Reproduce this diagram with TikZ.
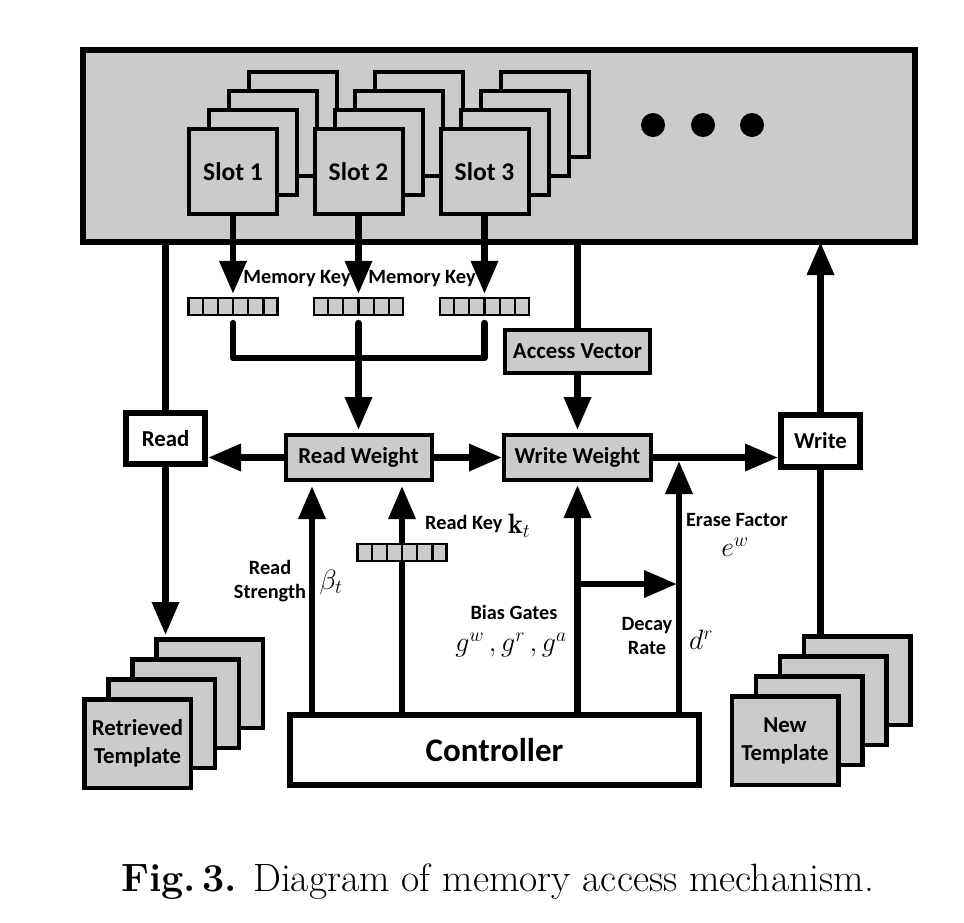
\RequirePackage{fix-cm}
\documentclass[tikz,border=0pt]{standalone}
\usepackage{fontspec}
\newfontfamily\carl{Carlito}
\usetikzlibrary{arrows.meta,calc}
\definecolor{boxgray}{HTML}{CBCBCB}
\tikzset{
 conn/.style={line width=6.5pt, line cap=round, line join=round},
 arr/.style={-{Triangle[length=33pt,width=26pt]}},
 lbl/.style={font=\carl\bfseries\fontsize{20.3}{24}\selectfont, inner sep=0pt, align=center},
 boxtxt/.style={font=\carl\bfseries\fontsize{22.8}{27}\selectfont, align=center},
 graybox/.style={draw, fill=boxgray, line width=4pt, inner sep=0pt, boxtxt},
 whitebox/.style={draw, fill=white, line width=6pt, inner sep=0pt, boxtxt},
 slotbox/.style={draw, fill=boxgray, line width=4pt, inner sep=0pt, minimum width=88pt, minimum height=85pt, font=\carl\bfseries\fontsize{25.5}{30}\selectfont},
 tplbox/.style={draw, fill=boxgray, line width=4.5pt, inner sep=0pt, minimum width=106.5pt, minimum height=88.5pt, boxtxt},
 mathlbl/.style={inner sep=0pt, font=\fontsize{28}{32}\selectfont},
 keyvec/.style={draw, fill=boxgray, line width=2.2pt, minimum width=89pt, minimum height=17pt, inner sep=0pt},
 dot/.style={circle, fill=black, minimum size=24pt, inner sep=0pt},
}
\begin{document}
\begin{tikzpicture}[x=1pt,y=-1pt]
\useasboundingbox (0,0) rectangle (964,922);
% memory
\node[draw, fill=boxgray, line width=6pt, minimum width=832pt, minimum height=192pt, inner sep=0pt] (mem) at (499,146) {};
\foreach \n/\x/\t in {1/233/Slot 1, 2/358.5/Slot 2, 3/484.5/Slot 3} {
  \foreach \k in {3,2,1} \node[slotbox] (s\n-\k) at (\x+20*\k, 171.5-19*\k) {};
  \node[slotbox] (s\n) at (\x,171.5) {\t};
}
\node[dot] (d1) at (653,125) {};
\node[dot] (d2) at (703,125) {};
\node[dot] (d3) at (752,125) {};
% key vectors
\foreach \n/\x in {1/233,2/358.5,3/484.5} {
  \node[keyvec] (k\n) at (\x,306.5) {};
  \foreach \i in {1,...,5} \draw[line width=2.2pt] ($(k\n.north west)!\i/6!(k\n.north east)$) -- ($(k\n.south west)!\i/6!(k\n.south east)$);
  \draw[conn,arr,shorten >=3pt] (s\n.south) -- (s\n.south |- k\n.north);
}
\node[lbl] (lmk1) at (297,279) {Memory Key};
\node[lbl] (lmk2) at (422,279) {Memory Key};
% boxes
\node[graybox, minimum width=145pt, minimum height=43pt] (av) at (577.5,351.5) {Access Vector};
\node[graybox, minimum width=146pt, minimum height=45pt] (rw) at (358.5,457.5) {Read Weight};
\node[graybox, minimum width=147pt, minimum height=45pt] (ww) at (577.5,457.5) {Write Weight};
\node[whitebox, minimum width=79pt, minimum height=51pt] (read) at (165.5,438.5) {Read};
\node[whitebox, minimum width=79pt, minimum height=52pt] (write) at (820.5,441) {Write};
\node[whitebox, minimum width=409pt, minimum height=70pt, font=\carl\bfseries\fontsize{33}{36}\selectfont] (ctrl) at (494.5,750) {Controller};
% templates
\foreach \k in {3,2,1} \node[tplbox] (rt\k) at (137.5+24*\k, 743.5-20*\k) {};
\node[tplbox] (rt0) at (137.5,743.5) {Retrieved\\[1pt]Template};
\foreach \k in {3,2,1} \node[tplbox] (nt\k) at (785+24*\k, 740.5-20*\k) {};
\node[tplbox] (nt0) at (785,740.5) {New\\[1pt]Template};
% key merge
\coordinate (jn) at (358.5,358);
\draw[conn] ([yshift=-7pt]k1.south) |- (jn) -| ([yshift=-7pt]k3.south);
\draw[conn,arr,shorten >=3pt] ([yshift=-7pt]k2.south) -- (rw.north);
% connectors
\draw[conn] (read.north) -- (read.north |- mem.south);
\draw[conn,arr] (rw.west) -- (rw.west -| read.east);
\draw[conn,arr] (rw.east) -- (ww.west);
\draw[conn,arr] (ww.east) -- (ww.east -| write.west);
\draw[conn,arr,shorten >=2pt] (read.south) -- (read.south |- rt3.north);
\draw[conn,arr,shorten >=-3pt] (write.north) -- (write.north |- mem.south);
\draw[conn] (write.south) -- (write.south |- nt3.north);
\draw[conn] (av.north) -- (av.north |- mem.south);
\draw[conn,arr,shorten >=3pt] (av.south) -- (ww.north);
% controller arrows
\coordinate (xa) at (312,487);
\coordinate (xb) at (402,487);
\coordinate (xd) at (679,461);
\coordinate (dj) at (577.5,584);
\draw[conn,arr,shorten >=4pt] (xa |- ctrl.north) -- (xa |- rw.south);
\draw[conn,arr,shorten >=4pt] (xb |- ctrl.north) -- (xb |- rw.south);
\draw[conn,arr,shorten >=3pt] (ww.south |- ctrl.north) -- (ww.south);
\draw[conn,arr] (xd |- ctrl.north) -- (xd);
\draw[conn,arr,shorten >=2pt] (dj) -- (dj -| xd);
\node[keyvec] (rk) at (402,552.5) {};
\foreach \i in {1,...,5} \draw[line width=2.2pt] ($(rk.north west)!\i/6!(rk.north east)$) -- ($(rk.south west)!\i/6!(rk.south east)$);
% labels
\node[lbl, anchor=west] (lrk) at (425,524) {Read Key};
\node[mathlbl, anchor=west] (lkt) at (508,526) {$\mathbf{k}_t$};
\node[lbl] (lrs) at (270,581) {Read\\Strength};
\node[mathlbl] (lbeta) at (331,582) {$\beta_t$};
\node[lbl] (lbg) at (514,612) {Bias Gates};
\node[mathlbl] (lg) at (511,645) {$g^{w}\,, g^{r}\,, g^{a}$};
\node[lbl] (ldr) at (647,636) {Decay\\Rate};
\node[mathlbl] (ld) at (701,640) {$d^r$};
\node[lbl] (lef) at (737,520) {Erase Factor};
\node[mathlbl] (le) at (735,547) {$e^w$};
% caption
\node[inner sep=0pt, font=\fontsize{39.5}{44}\selectfont] (cap) at (497.5,882) {\textbf{Fig.\,3.} Diagram of memory access mechanism.};
\end{tikzpicture}
\end{document}
